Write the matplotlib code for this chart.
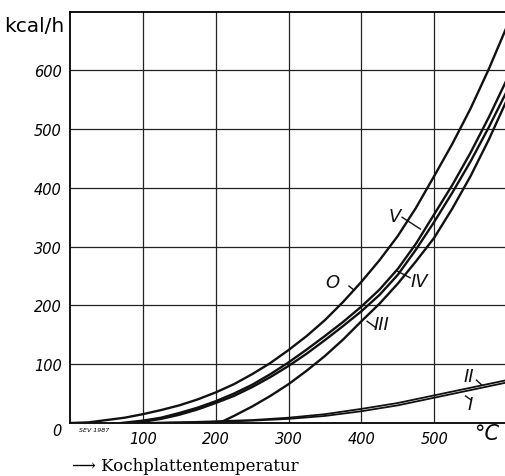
import matplotlib
matplotlib.use("Agg")
import matplotlib.pyplot as plt

# Kurvenwerte (Temperatur °C -> Wärmeabgabe kcal/h)
T_O = [0, 25, 50, 75, 100, 125, 150, 175, 200, 225, 250, 275, 300, 325, 350,
       375, 400, 425, 450, 475, 500, 525, 550, 575, 600]
Q_O = [0, 1, 5, 9, 15, 22, 30, 40, 52, 66, 83, 102, 124, 148, 175,
       206, 240, 277, 318, 366, 420, 475, 535, 602, 675]

T_V = [70, 100, 125, 150, 175, 200, 225, 250, 275, 300, 325, 350, 375, 400,
       425, 450, 475, 500, 525, 550, 575, 600]
Q_V = [0, 4, 9, 17, 26, 37, 50, 65, 83, 103, 125, 148, 172, 198,
       227, 262, 305, 355, 405, 460, 520, 585]

T_IV = [80, 100, 125, 150, 175, 200, 225, 250, 275, 300, 325, 350, 375, 400,
        425, 450, 475, 500, 525, 550, 575, 600]
Q_IV = [0, 2, 7, 14, 23, 34, 46, 61, 78, 97, 118, 141, 165, 190,
        218, 252, 295, 342, 392, 445, 503, 565]

T_III = [205, 225, 250, 275, 300, 325, 350, 375, 400, 425, 450, 475, 500,
         525, 550, 575, 600]
Q_III = [0, 12, 28, 46, 66, 89, 114, 142, 173, 203, 237, 275, 315,
         365, 420, 482, 550]

T_I = [100, 150, 200, 250, 300, 350, 400, 450, 500, 550, 600]
Q_I = [0, 1, 2, 4, 7, 12, 20, 30, 43, 56, 69]
T_II = [100, 150, 200, 250, 300, 350, 400, 450, 500, 550, 600]
Q_II = [0, 1, 3, 5, 9, 15, 24, 34, 47, 60, 73]

X_TICKS = [100, 200, 300, 400, 500]
Y_TICKS = [100, 200, 300, 400, 500, 600]

# Beschriftungen: (Text, Textposition, Hinweisstrich von, bis)
KURVEN_LABELS = [
    ("O", (360, 240), (383, 233), (390, 226)),
    ("V", (446, 352), (456, 350), (481, 330)),
    ("IV", (480, 241), (450, 258), (467, 247)),
    ("III", (428, 168), (408, 173), (420, 162)),
    ("II", (547, 80), (558, 73), (565, 65)),
    ("I", (549, 33), (543, 46), (551, 39)),
]

HAND = ["Liberation Sans Narrow", "DejaVu Sans"]

fig = plt.figure(figsize=(5.05, 4.77), dpi=100)
ax = fig.add_axes([70 / 505, 53 / 477, 437 / 505, 411.5 / 477])
ax.set_xlim(0, 600)
ax.set_ylim(0, 700)

for xv in X_TICKS + [600]:
    ax.axvline(xv, color="#222222", lw=0.9, zorder=1)
for yv in Y_TICKS:
    ax.axhline(yv, color="#222222", lw=0.9, zorder=1)

for t, q in [(T_O, Q_O), (T_V, Q_V), (T_IV, Q_IV), (T_III, Q_III)]:
    ax.plot(t, q, color="#111111", lw=1.7, zorder=3, solid_capstyle="round")
for t, q in [(T_I, Q_I), (T_II, Q_II)]:
    ax.plot(t, q, color="#111111", lw=1.3, zorder=3, solid_capstyle="round")

for txt, pos, p0, p1 in KURVEN_LABELS:
    ax.text(pos[0], pos[1], txt, fontsize=13, style="italic", family=HAND,
            ha="center", va="center", color="#111111")
    ax.plot([p0[0], p1[0]], [p0[1], p1[1]], color="#111111", lw=1.0, zorder=3)

for s in ["left", "bottom", "top"]:
    ax.spines[s].set_linewidth(1.3)
ax.spines["right"].set_visible(False)

ax.set_xticks(X_TICKS)
ax.set_yticks(Y_TICKS)
ax.tick_params(length=0, pad=6)
ax.set_xticklabels([str(v) for v in X_TICKS], fontsize=10.5, style="italic", family=HAND)
ax.set_yticklabels([str(v) for v in Y_TICKS], fontsize=10.5, style="italic", family=HAND)

fig.text(57 / 505, 1 - 432 / 477, "0", fontsize=10.5, style="italic", family=HAND,
         ha="center", va="center")
fig.text(94 / 505, 1 - 431 / 477, "SEV 1987", fontsize=4.5, style="italic", family=HAND,
         ha="center", va="center")
fig.text(487 / 505, 1 - 434 / 477, "°C", fontsize=15, style="italic", family=HAND,
         ha="center", va="center")
fig.text(4 / 505, 1 - 27 / 477, "kcal/h", fontsize=14.5, family="DejaVu Sans",
         weight="medium", ha="left", va="center")
fig.text(72 / 505, 1 - 467 / 477, "\u27f6 Kochplattentemperatur", fontsize=12,
         family=["DejaVu Serif"], ha="left", va="center")

fig.savefig("out.png", dpi=100)
